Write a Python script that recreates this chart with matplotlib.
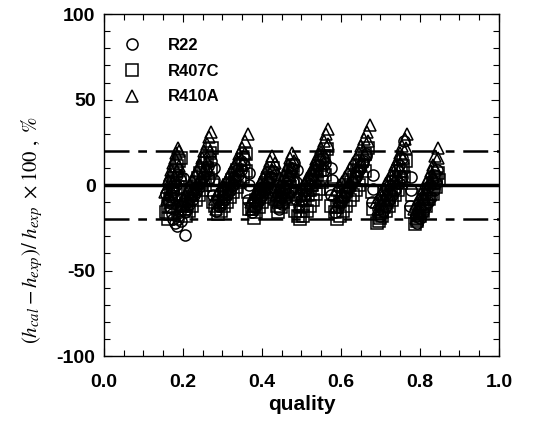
import matplotlib
matplotlib.use("Agg")
import matplotlib.pyplot as plt
from matplotlib.ticker import MultipleLocator

plt.rcParams['font.family'] = ['Liberation Sans', 'DejaVu Sans']
plt.rcParams['mathtext.fontset'] = 'stix'
plt.rcParams['axes.unicode_minus'] = False

# R410A (triangles), one row per test run
r410a_q = [0.155, 0.159, 0.163, 0.167, 0.171, 0.175, 0.179, 0.183, 0.187, 0.191,
           0.200, 0.206, 0.212, 0.218, 0.224, 0.230, 0.236, 0.242, 0.248, 0.254, 0.260, 0.266, 0.272,
           0.280, 0.287, 0.294, 0.301, 0.308, 0.315, 0.322, 0.329, 0.336, 0.343, 0.350, 0.357, 0.364,
           0.372, 0.378, 0.384, 0.390, 0.396, 0.402, 0.408, 0.414, 0.420, 0.426,
           0.436, 0.441, 0.446, 0.451, 0.456, 0.461, 0.466, 0.471, 0.476,
           0.490, 0.496, 0.502, 0.508, 0.514, 0.520, 0.526, 0.532, 0.538, 0.544, 0.550, 0.556, 0.562, 0.568,
           0.582, 0.589, 0.596, 0.603, 0.610, 0.617, 0.624, 0.631, 0.638, 0.645, 0.652, 0.659, 0.666, 0.673,
           0.690, 0.696, 0.702, 0.708, 0.714, 0.720, 0.726, 0.732, 0.738, 0.744, 0.750, 0.756, 0.762, 0.768,
           0.785, 0.791, 0.797, 0.803, 0.809, 0.815, 0.821, 0.827, 0.833, 0.839, 0.845,
           # second pass
           0.160, 0.165, 0.170, 0.175, 0.180, 0.185, 0.190, 0.195,
           0.205, 0.213, 0.221, 0.229, 0.237, 0.245, 0.253, 0.261, 0.269,
           0.285, 0.293, 0.301, 0.309, 0.317, 0.325, 0.333, 0.341, 0.349, 0.357,
           0.376, 0.383, 0.390, 0.397, 0.404, 0.411, 0.418, 0.425, 0.432,
           0.440, 0.446, 0.452, 0.458, 0.464, 0.470, 0.476, 0.482,
           0.495, 0.503, 0.511, 0.519, 0.527, 0.535, 0.543, 0.551, 0.559, 0.567,
           0.588, 0.597, 0.606, 0.615, 0.624, 0.633, 0.642, 0.651, 0.660, 0.669,
           0.694, 0.702, 0.710, 0.718, 0.726, 0.734, 0.742, 0.750, 0.758, 0.766,
           0.790, 0.797, 0.804, 0.811, 0.818, 0.825, 0.832, 0.839, 0.846]
r410a_dev = [-4, -1, 3, 6, 9, 13, 16, 19, 22, 20,
             -9, -6, -3, 0, 3, 6, 9, 12, 16, 20, 24, 28, 31,
             -8, -5, -3, 0, 2, 5, 8, 11, 14, 18, 22, 26, 30,
             -10, -7, -5, -2, 1, 4, 7, 10, 14, 17,
             -6, -3, 0, 3, 6, 9, 12, 16, 19,
             -6, -4, -1, 1, 4, 6, 9, 12, 15, 18, 22, 26, 30, 33,
             -5, -3, 0, 2, 5, 7, 10, 13, 16, 19, 23, 27, 31, 35,
             -10, -7, -5, -2, 1, 3, 6, 9, 12, 15, 19, 23, 27, 30,
             -14, -11, -8, -5, -2, 1, 4, 8, 12, 17, 22,
             -8, -5, -2, 2, 5, 8, 11, 6,
             -12, -9, -6, -2, 1, 5, 9, 14, 20,
             -14, -11, -8, -5, -2, 1, 5, 9, 13, 19,
             -14, -11, -8, -5, -2, 1, 5, 9, 13,
             -10, -7, -4, -1, 3, 6, 10, 14,
             -12, -9, -6, -3, 0, 4, 8, 12, 17, 24,
             -12, -9, -6, -3, 0, 4, 8, 12, 18, 26,
             -14, -11, -8, -5, -2, 2, 6, 10, 16, 22,
             -19, -15, -11, -7, -3, 1, 5, 10, 16]

# R407C (squares)
r407c_q = [0.158, 0.162, 0.166, 0.170, 0.174, 0.178, 0.182, 0.186, 0.190, 0.194,
           0.202, 0.208, 0.214, 0.220, 0.226, 0.232, 0.238, 0.244, 0.250, 0.256, 0.262, 0.268, 0.274,
           0.282, 0.289, 0.296, 0.303, 0.310, 0.317, 0.324, 0.331, 0.338, 0.345, 0.352, 0.359,
           0.374, 0.380, 0.386, 0.392, 0.398, 0.404, 0.410, 0.416, 0.422, 0.428,
           0.438, 0.443, 0.448, 0.453, 0.458, 0.463, 0.468, 0.473, 0.478,
           0.492, 0.498, 0.504, 0.510, 0.516, 0.522, 0.528, 0.534, 0.540, 0.546, 0.552, 0.558, 0.564,
           0.584, 0.591, 0.598, 0.605, 0.612, 0.619, 0.626, 0.633, 0.640, 0.647, 0.654, 0.661, 0.668,
           0.692, 0.698, 0.704, 0.710, 0.716, 0.722, 0.728, 0.734, 0.740, 0.746, 0.752, 0.758, 0.764,
           0.787, 0.793, 0.799, 0.805, 0.811, 0.817, 0.823, 0.829, 0.835, 0.841, 0.847,
           # second pass
           0.162, 0.167, 0.172, 0.177, 0.182, 0.187, 0.192,
           0.208, 0.216, 0.224, 0.232, 0.240, 0.248, 0.256, 0.264, 0.272,
           0.288, 0.296, 0.304, 0.312, 0.320, 0.328, 0.336, 0.344, 0.352, 0.360,
           0.379, 0.386, 0.393, 0.400, 0.407, 0.414, 0.421, 0.428,
           0.442, 0.448, 0.454, 0.460, 0.466, 0.472, 0.478,
           0.497, 0.505, 0.513, 0.521, 0.529, 0.537, 0.545, 0.553, 0.561,
           0.590, 0.598, 0.606, 0.614, 0.622, 0.630, 0.638, 0.646, 0.654, 0.662,
           0.697, 0.705, 0.713, 0.721, 0.729, 0.737, 0.745, 0.753, 0.761,
           0.792, 0.800, 0.808, 0.816, 0.824, 0.832, 0.840, 0.848,
           # points between runs
           0.197, 0.276, 0.277, 0.367, 0.365, 0.432, 0.485, 0.487, 0.576, 0.574,
           0.681, 0.679, 0.777, 0.779]
r407c_dev = [-16, -12, -8, -4, 0, 4, 8, 11, 14, 16,
             -14, -11, -8, -5, -2, 1, 4, 7, 10, 13, 16, 19, 22,
             -12, -10, -7, -5, -2, 0, 3, 6, 9, 12, 15, 18,
             -14, -12, -9, -7, -4, -2, 1, 4, 7, 10,
             -12, -9, -6, -4, -1, 2, 5, 8, 11,
             -18, -15, -12, -9, -6, -3, 0, 3, 6, 9, 13, 17, 21,
             -16, -13, -10, -7, -4, -1, 2, 5, 8, 11, 14, 18, 22,
             -22, -19, -16, -13, -10, -7, -4, -1, 2, 5, 8, 11, 14,
             -23, -20, -17, -14, -11, -8, -5, -2, 1, 4, 7,
             -20, -17, -13, -9, -5, -1, 3,
             -18, -15, -12, -9, -6, -3, 0, 4, 8,
             -17, -15, -12, -10, -7, -4, -1, 2, 5, 8,
             -19, -16, -13, -10, -7, -4, -1, 3,
             -16, -13, -10, -7, -4, -1, 3,
             -20, -18, -15, -12, -9, -5, -2, 2, 6,
             -20, -18, -15, -12, -9, -6, -3, 0, 4, 8,
             -21, -18, -15, -12, -9, -6, -3, 1, 5,
             -21, -18, -15, -12, -8, -5, -1, 3,
             -12, -10, 0, -14, -4, -8, -15, -5, -12, -2,
             -14, -4, -16, -6]

# R22 (circles)
r22_q = [0.158, 0.163, 0.165, 0.168, 0.172, 0.175, 0.176, 0.180, 0.184, 0.185, 0.188, 0.192, 0.196, 0.205,
         0.204, 0.210, 0.216, 0.222, 0.228, 0.234, 0.240, 0.246, 0.252, 0.258, 0.264, 0.270,
         0.284, 0.291, 0.298, 0.305, 0.312, 0.319, 0.326, 0.333, 0.340, 0.347, 0.354,
         0.376, 0.382, 0.388, 0.394, 0.400, 0.406, 0.412, 0.418, 0.424,
         0.440, 0.445, 0.450, 0.455, 0.460, 0.465, 0.470, 0.475, 0.480,
         0.494, 0.500, 0.506, 0.512, 0.518, 0.524, 0.530, 0.536, 0.542, 0.548, 0.554, 0.560,
         0.586, 0.593, 0.600, 0.607, 0.614, 0.621, 0.628, 0.635, 0.642, 0.649, 0.656, 0.663,
         0.694, 0.700, 0.706, 0.712, 0.718, 0.724, 0.730, 0.736, 0.742, 0.748, 0.754, 0.760,
         0.789, 0.795, 0.801, 0.807, 0.813, 0.819, 0.825, 0.831, 0.837, 0.843,
         # second pass
         0.164, 0.170, 0.176, 0.182, 0.188, 0.194,
         0.210, 0.218, 0.226, 0.234, 0.242, 0.250, 0.258, 0.266,
         0.290, 0.298, 0.306, 0.314, 0.322, 0.330, 0.338, 0.346,
         0.380, 0.388, 0.396, 0.404, 0.412, 0.420, 0.428,
         0.444, 0.451, 0.458, 0.465, 0.472, 0.479,
         0.500, 0.508, 0.516, 0.524, 0.532, 0.540, 0.548, 0.556,
         0.592, 0.601, 0.610, 0.619, 0.628, 0.637, 0.646, 0.655, 0.664,
         0.698, 0.706, 0.714, 0.722, 0.730, 0.738, 0.746, 0.754,
         0.793, 0.800, 0.807, 0.814, 0.821, 0.828, 0.835, 0.842,
         # points between runs
         0.198, 0.199, 0.277, 0.278, 0.279, 0.366, 0.368, 0.367, 0.433, 0.434, 0.486,
         0.487, 0.488, 0.575, 0.577, 0.576, 0.680, 0.682, 0.681, 0.776, 0.778, 0.777]
r22_dev = [-5, -9, 2, -13, -17, -3, -20, -22, -24, 6, -20, -16, -12, -29,
           -16, -14, -11, -9, -6, -4, -1, 2, 5, 8, 11, 14,
           -15, -12, -10, -8, -5, -3, 0, 3, 6, 9, 12,
           -16, -13, -11, -8, -6, -3, -1, 2, 5,
           -10, -7, -4, -2, 1, 4, 7, 10, 13,
           -12, -9, -6, -3, 0, 3, 6, 9, 12, 14, 16, 13,
           -16, -13, -10, -7, -4, -1, 2, 5, 8, 11, 14, 17,
           -14, -11, -9, -6, -3, 0, 3, 6, 9, 12, 16, 26,
           -18, -15, -12, -9, -6, -3, 0, 3, 6, 9,
           -10, -7, -4, 0, -18, -21,
           -10, -7, -4, -1, 2, 5, 9, 4,
           -9, -7, -4, -1, 2, 5, 9, 14,
           -10, -7, -4, -1, 2, 5, 8,
           -14, -11, -8, -5, -2, 2,
           -6, -3, 1, 4, 8, 11, 15, 9,
           -10, -7, -4, -1, 2, 5, 9, 13, 18,
           -18, -15, -12, -9, -6, -3, 1, 5,
           -22, -19, -16, -13, -10, -7, -3, 1,
           -8, 4, -6, 3, 10, -9, 0, 7, -4, 6, -8,
           2, 9, -6, 3, 10, -10, -2, 6, -12, -3, 5]

fig = plt.figure(figsize=(5.5, 4.29), dpi=100)
ax = fig.add_axes([0.189, 0.170, 0.718, 0.797])

ax.axhline(0, color='black', lw=2.5, zorder=1)
for lim in (20, -20):
    ax.axhline(lim, color='black', lw=1.8, dashes=(10, 3.5, 3.5, 3.5), zorder=1)

mk = dict(linestyle='none', markerfacecolor='none', markeredgecolor='black',
          markersize=8, markeredgewidth=1.1)
ax.plot(r22_q, r22_dev, marker='o', label='R22', **mk)
ax.plot(r407c_q, r407c_dev, marker='s', label='R407C', **mk)
ax.plot(r410a_q, r410a_dev, marker='^', label='R410A', **mk)

ax.set_xlim(0, 1)
ax.set_ylim(-100, 100)
ax.xaxis.set_major_locator(MultipleLocator(0.2))
ax.xaxis.set_minor_locator(MultipleLocator(0.05))
ax.yaxis.set_major_locator(MultipleLocator(50))
ax.yaxis.set_minor_locator(MultipleLocator(10))
ax.tick_params(which='both', direction='in', top=True, right=True, width=0.8)
ax.tick_params(which='major', length=6, labelsize=14, pad=6)
ax.tick_params(axis='x', which='major', pad=13)
ax.tick_params(which='minor', length=4)
ax.xaxis.set_major_formatter(plt.FuncFormatter(lambda v, p: f'{v:.1f}'))
for lab in ax.get_xticklabels() + ax.get_yticklabels():
    lab.set_fontweight('bold')
for s in ax.spines.values():
    s.set_linewidth(1.0)

ax.set_xlabel('quality', fontsize=15, fontweight='bold', labelpad=3)
ax.set_ylabel(r'$(h_{cal}-h_{exp})/\ h_{exp}\ \times 100\ ,\ \%$', fontsize=15)
ax.yaxis.set_label_coords(-0.15, 0.37)

leg = ax.legend(loc='upper left', frameon=False, bbox_to_anchor=(-0.01, 0.975),
                handletextpad=1.2, labelspacing=0.65, prop={'weight': 'bold', 'size': 12})

fig.savefig('out.png', dpi=100)
